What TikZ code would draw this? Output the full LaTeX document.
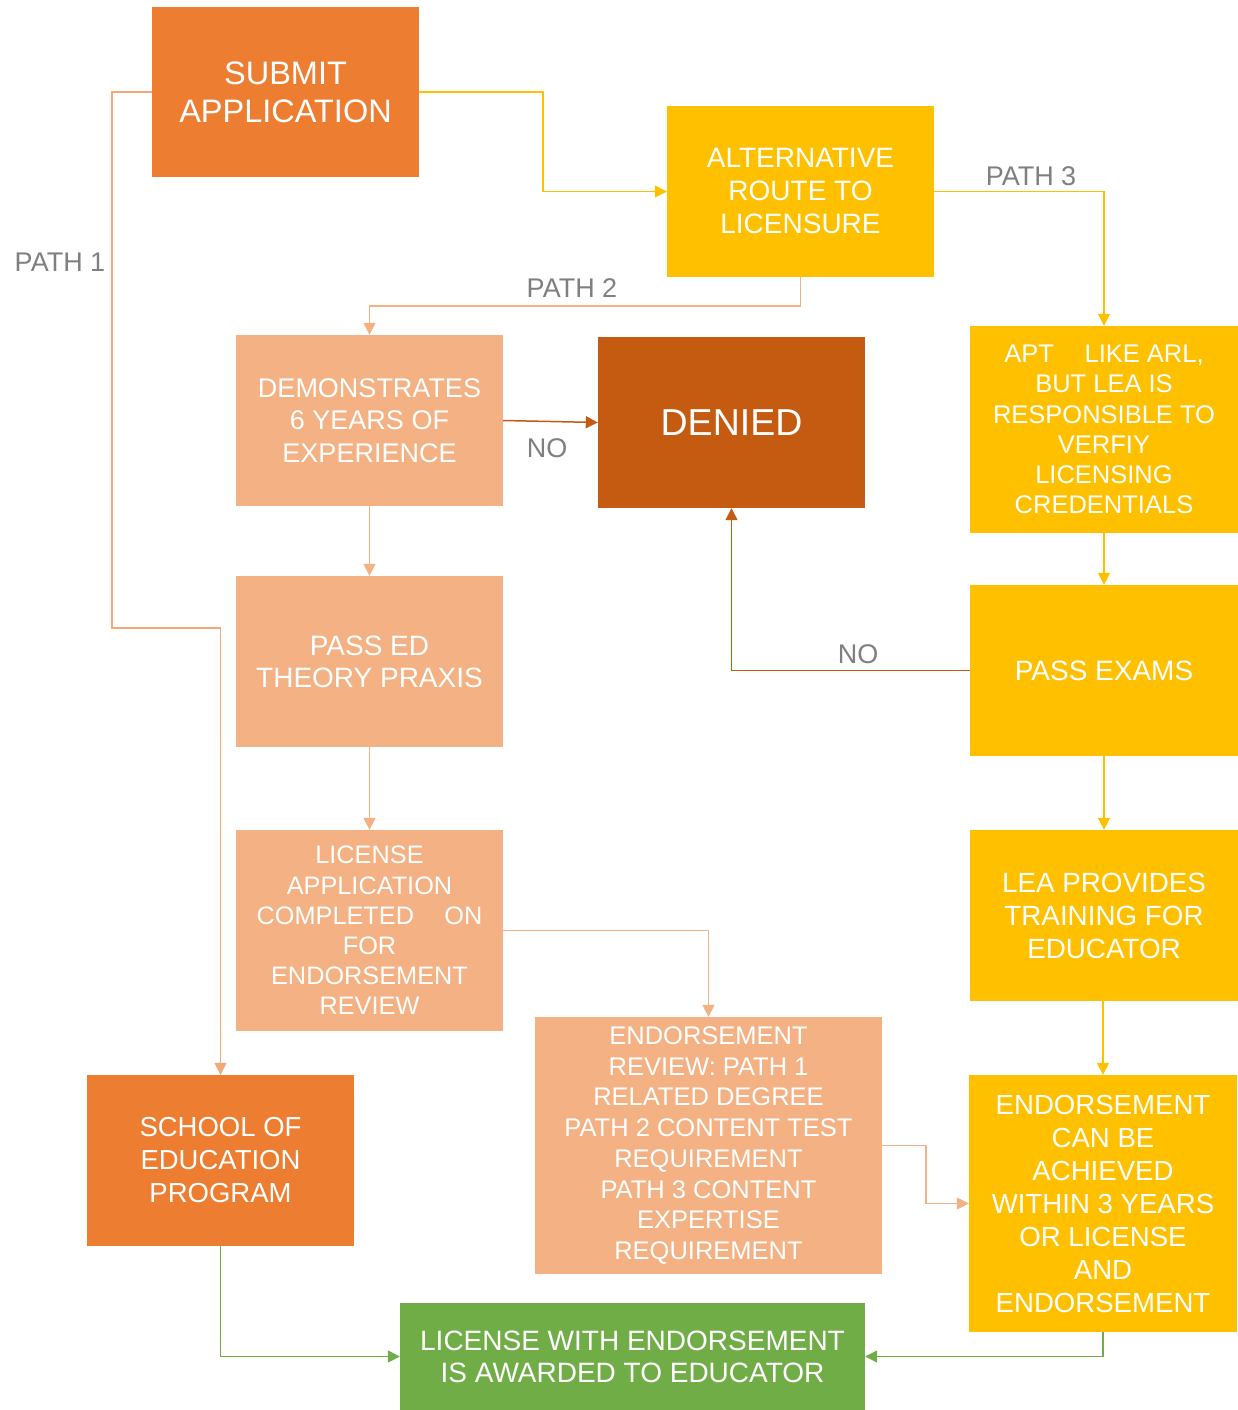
\documentclass[tikz,border=0pt]{standalone}
\usepackage{fontspec}
\setmainfont{Liberation Sans}
\usetikzlibrary{arrows.meta}
\definecolor{corange}{HTML}{ED7D31}
\definecolor{cyellow}{HTML}{FFC000}
\definecolor{clight}{HTML}{F4B183}
\definecolor{cdark}{HTML}{C55A11}
\definecolor{cgreen}{HTML}{70AD47}
\definecolor{cgray}{HTML}{7F7F7F}
\definecolor{cpath}{HTML}{F2A877}
\tikzset{
  box/.style={rectangle, inner sep=0pt, text=white, align=center},
  conn/.style={line width=1.5pt, -{Triangle[length=12pt,width=12pt]}},
  lbl/.style={text=cgray, font=\fontsize{27}{30}\selectfont, inner sep=0pt}
}
\begin{document}
\begin{tikzpicture}[x=1pt,y=-1pt]
\useasboundingbox (0,0) rectangle (1238,1410);
% boxes
\node[box, fill=corange, minimum width=267pt, minimum height=170pt, font=\fontsize{32.5}{38}\selectfont] (submit) at (285.5,92) {SUBMIT\\APPLICATION};
\node[box, fill=cyellow, minimum width=267pt, minimum height=171pt, font=\fontsize{28}{33}\selectfont] (alt) at (800.5,191.5) {ALTERNATIVE\\ROUTE TO\\LICENSURE};
\node[box, fill=clight, minimum width=267pt, minimum height=171pt, font=\fontsize{27}{32.5}\selectfont] (demo) at (369.5,420.5) {DEMONSTRATES\\6 YEARS OF\\EXPERIENCE};
\node[box, fill=cdark, minimum width=267pt, minimum height=171pt, font=\fontsize{37.5}{40}\selectfont] (denied) at (731.5,422.5) {DENIED};
\node[box, fill=cyellow, minimum width=268pt, minimum height=207pt, font=\fontsize{25.5}{30.2}\selectfont] (apt) at (1104,429.5) {APT\hspace{1.2em}LIKE ARL,\\BUT LEA IS\\RESPONSIBLE TO\\VERFIY\\LICENSING\\CREDENTIALS};
\node[box, fill=clight, minimum width=267pt, minimum height=171pt, font=\fontsize{28}{32}\selectfont] (passed) at (369.5,661.5) {PASS ED\\THEORY PRAXIS};
\node[box, fill=cyellow, minimum width=268pt, minimum height=171pt, font=\fontsize{28}{32}\selectfont] (pexams) at (1104,670.5) {PASS EXAMS};
\node[box, fill=clight, minimum width=267pt, minimum height=201pt, font=\fontsize{25.3}{30.2}\selectfont] (lic) at (369.5,930.5) {LICENSE\\APPLICATION\\COMPLETED\hspace{1.2em}ON\\FOR\\ENDORSEMENT\\REVIEW};
\node[box, fill=cyellow, minimum width=268pt, minimum height=171pt, font=\fontsize{27.8}{33}\selectfont] (lea) at (1104,915.5) {LEA PROVIDES\\TRAINING FOR\\EDUCATOR};
\node[box, fill=clight, minimum width=347pt, minimum height=257pt, font=\fontsize{25.5}{30.7}\selectfont] (review) at (708.5,1145.5) {ENDORSEMENT\\REVIEW: PATH 1\\RELATED DEGREE\\PATH 2 CONTENT TEST\\REQUIREMENT\\PATH 3 CONTENT\\EXPERTISE\\REQUIREMENT};
\node[box, fill=corange, minimum width=267pt, minimum height=171pt, font=\fontsize{27.5}{33}\selectfont] (school) at (220.5,1160.5) {SCHOOL OF\\EDUCATION\\PROGRAM};
\node[box, fill=cyellow, minimum width=268pt, minimum height=257pt, font=\fontsize{27.6}{33}\selectfont] (endc) at (1103,1203.5) {ENDORSEMENT\\CAN BE\\ACHIEVED\\WITHIN 3 YEARS\\OR LICENSE\\AND\\ENDORSEMENT};
\node[box, fill=cgreen, minimum width=465pt, minimum height=107pt, font=\fontsize{28}{32}\selectfont] (award) at (632.5,1356.5) {LICENSE WITH ENDORSEMENT\\IS AWARDED TO EDUCATOR};
% labels
\node[lbl] (p1) at (60,262) {PATH 1};
\node[lbl] (p2) at (572,288) {PATH 2};
\node[lbl] (p3) at (1031,176) {PATH 3};
\node[lbl] (no1) at (547,448) {NO};
\node[lbl] (no2) at (858,654) {NO};
% connectors
\draw[conn, draw=cpath] (submit.west) -- ++(-40,0) |- (220.5,628) -- (school.north);
\draw[conn, draw=cyellow] (submit.east) -- (543,92) |- (alt.west);
\draw[conn, draw=cyellow] (alt.east) -| (apt.north);
\draw[conn, draw=clight] (alt.south) -- ++(0,29) -| (demo.north);
\draw[conn, draw=cdark] (demo.east) -- (denied.west);
\draw[conn, draw=clight] (demo.south) -- (passed.north);
\draw[conn, draw=clight] (passed.south) -- (lic.north);
\draw[conn, draw=clight] (lic.east) -| (review.north);
\draw[conn, draw=cyellow] (apt.south) -- (pexams.north);
\draw[conn, draw=cdark] (pexams.west) -| (denied.south);
\draw[conn, draw=cyellow] (lea.south -| endc.north) -- (endc.north);
\draw[conn, draw=cyellow] (pexams.south) -- (lea.north);
\draw[conn, draw=clight] (review.east) -- ++(44,0) |- (endc.west);
\draw[conn, draw=cgreen] (school.south) |- (award.west);
\draw[conn, draw=cgreen] (endc.south) |- (award.east);
\end{tikzpicture}
\end{document}
